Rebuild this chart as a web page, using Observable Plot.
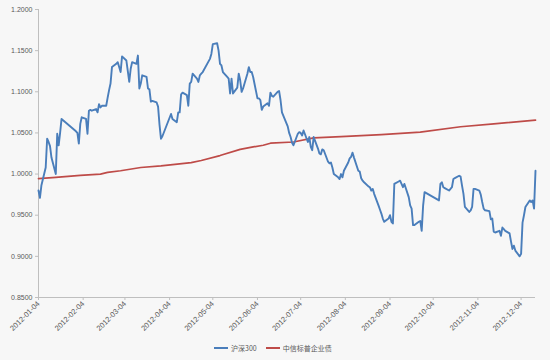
<!DOCTYPE html>
<html>
<head>
<meta charset="utf-8">
<script src="https://cdn.jsdelivr.net/npm/d3@7"></script>
<script src="https://cdn.jsdelivr.net/npm/@observablehq/plot@0.6"></script>
<style>
  html, body { margin: 0; padding: 0; background: #f7f7f7; }
  body { width: 550px; height: 360px; position: relative; overflow: hidden; font-family: "Liberation Sans", Arial, sans-serif; }
  #legend { position: absolute; top: 341px; left: 214px; height: 14px; display: flex; align-items: center; font-family: "Noto Sans CJK SC", "Liberation Sans", sans-serif; font-size: 7px; color: #595959; }
  .sw { display: inline-block; width: 14px; height: 2px; margin-right: 3px; }
  .item { display: flex; align-items: center; margin-right: 9px; }
</style>
</head>
<body>
<div id="chart"></div>
<div id="legend"></div>
<script>
// 沪深300 (normalised to 2011-12-30 close)
const csiDates = [
"2012-01-04","2012-01-05","2012-01-06","2012-01-09","2012-01-10","2012-01-11","2012-01-12","2012-01-13","2012-01-16","2012-01-17","2012-01-18","2012-01-19","2012-01-20",
"2012-01-30","2012-01-31","2012-02-01","2012-02-02","2012-02-03","2012-02-06","2012-02-07","2012-02-08","2012-02-09","2012-02-10","2012-02-13","2012-02-14","2012-02-15","2012-02-16","2012-02-17","2012-02-20","2012-02-21","2012-02-22","2012-02-23","2012-02-24","2012-02-27","2012-02-28","2012-02-29",
"2012-03-01","2012-03-02","2012-03-05","2012-03-06","2012-03-07","2012-03-08","2012-03-09","2012-03-12","2012-03-13","2012-03-14","2012-03-15","2012-03-16","2012-03-19","2012-03-20","2012-03-21","2012-03-22","2012-03-23","2012-03-26","2012-03-27","2012-03-28","2012-03-29","2012-03-30",
"2012-04-05","2012-04-06","2012-04-09","2012-04-10","2012-04-11","2012-04-12","2012-04-13","2012-04-16","2012-04-17","2012-04-18","2012-04-19","2012-04-20","2012-04-23","2012-04-24","2012-04-25","2012-04-26","2012-04-27",
"2012-05-02","2012-05-03","2012-05-04","2012-05-07","2012-05-08","2012-05-09","2012-05-10","2012-05-11","2012-05-14","2012-05-15","2012-05-16","2012-05-17","2012-05-18","2012-05-21","2012-05-22","2012-05-23","2012-05-24","2012-05-25","2012-05-28","2012-05-29","2012-05-30","2012-05-31",
"2012-06-01","2012-06-04","2012-06-05","2012-06-06","2012-06-07","2012-06-08","2012-06-11","2012-06-12","2012-06-13","2012-06-14","2012-06-15","2012-06-18","2012-06-19","2012-06-20","2012-06-21","2012-06-25","2012-06-26","2012-06-27","2012-06-28","2012-06-29",
"2012-07-02","2012-07-03","2012-07-04","2012-07-05","2012-07-06","2012-07-09","2012-07-10","2012-07-11","2012-07-12","2012-07-13","2012-07-16","2012-07-17","2012-07-18","2012-07-19","2012-07-20","2012-07-23","2012-07-24","2012-07-25","2012-07-26","2012-07-27","2012-07-30","2012-07-31",
"2012-08-01","2012-08-02","2012-08-03","2012-08-06","2012-08-07","2012-08-08","2012-08-09","2012-08-10","2012-08-13","2012-08-14","2012-08-15","2012-08-16","2012-08-17","2012-08-20","2012-08-21","2012-08-22","2012-08-23","2012-08-24","2012-08-27","2012-08-28","2012-08-29","2012-08-30","2012-08-31",
"2012-09-03","2012-09-04","2012-09-05","2012-09-06","2012-09-07","2012-09-10","2012-09-11","2012-09-12","2012-09-13","2012-09-14","2012-09-17","2012-09-18","2012-09-19","2012-09-20","2012-09-21","2012-09-24","2012-09-25","2012-09-26","2012-09-27","2012-09-28",
"2012-10-08","2012-10-09","2012-10-10","2012-10-11","2012-10-12","2012-10-15","2012-10-16","2012-10-17","2012-10-18","2012-10-19","2012-10-22","2012-10-23","2012-10-24","2012-10-25","2012-10-26","2012-10-29","2012-10-30","2012-10-31",
"2012-11-01","2012-11-02","2012-11-05","2012-11-06","2012-11-07","2012-11-08","2012-11-09","2012-11-12","2012-11-13","2012-11-14","2012-11-15","2012-11-16","2012-11-19","2012-11-20","2012-11-21","2012-11-22","2012-11-23","2012-11-26","2012-11-27","2012-11-28","2012-11-29","2012-11-30",
"2012-12-03","2012-12-04","2012-12-05","2012-12-06","2012-12-07","2012-12-10","2012-12-11","2012-12-12","2012-12-13","2012-12-14"
];
const csiValues = [
0.980,0.971,0.986,1.008,1.043,1.039,1.034,1.020,1.000,1.049,1.035,1.050,1.067,
1.052,1.050,1.037,1.061,1.069,1.067,1.049,1.077,1.078,1.077,1.079,1.075,1.085,1.081,1.083,1.083,1.093,1.102,1.110,1.130,1.134,1.136,1.130,
1.124,1.143,1.138,1.125,1.112,1.128,1.136,1.134,1.144,1.104,1.110,1.120,1.118,1.104,1.103,1.088,1.089,1.087,1.082,1.060,1.043,1.046,
1.073,1.067,1.063,1.075,1.075,1.097,1.099,1.096,1.083,1.110,1.112,1.122,1.116,1.112,1.120,1.122,1.124,
1.140,1.146,1.158,1.159,1.150,1.134,1.132,1.124,1.118,1.116,1.098,1.116,1.098,1.105,1.122,1.114,1.100,1.104,1.122,1.130,1.124,1.124,
1.118,1.092,1.092,1.090,1.078,1.082,1.086,1.083,1.099,1.095,1.094,1.100,1.101,1.090,1.075,1.058,1.050,1.045,1.038,1.035,
1.049,1.051,1.050,1.047,1.053,1.039,1.045,1.033,1.029,1.045,1.031,1.025,1.024,1.030,1.029,1.015,1.013,1.014,1.008,1.000,0.996,0.994,
1.000,0.996,1.004,1.014,1.019,1.021,1.026,1.020,1.004,1.003,0.995,0.992,0.990,0.985,0.984,0.980,0.982,0.976,0.962,0.957,0.952,0.946,0.942,
0.946,0.950,0.942,0.940,0.988,0.991,0.992,0.988,0.984,0.988,0.972,0.962,0.958,0.938,0.938,0.942,0.943,0.931,0.962,0.978,
0.968,0.988,0.990,0.984,0.983,0.980,0.982,0.984,0.994,0.995,0.998,0.997,0.986,0.976,0.960,0.954,0.956,0.960,
0.982,0.982,0.980,0.975,0.966,0.958,0.956,0.955,0.945,0.946,0.930,0.929,0.931,0.925,0.935,0.933,0.931,0.928,0.918,0.909,0.913,0.907,
0.900,0.903,0.941,0.950,0.960,0.968,0.966,0.968,0.958,1.004
];

// 中信标普企业债
const bondDates = ["2012-01-04","2012-01-16","2012-02-02","2012-02-16","2012-02-21","2012-03-01","2012-03-15","2012-03-29","2012-04-19","2012-04-26","2012-05-09","2012-05-23","2012-06-01","2012-06-08","2012-06-13","2012-06-29","2012-07-13","2012-08-01","2012-08-29","2012-09-25","2012-10-23","2012-11-15","2012-12-14"];
const bondValues = [0.9945,0.9960,0.9985,1.0000,1.0020,1.0040,1.0080,1.0100,1.0140,1.0165,1.0225,1.0300,1.0330,1.0350,1.0375,1.0390,1.0440,1.0455,1.0480,1.0510,1.0575,1.0610,1.0655];

const xTickLabels = ["2012-01-04","2012-02-04","2012-03-04","2012-04-04","2012-05-04","2012-06-04","2012-07-04","2012-08-04","2012-09-04","2012-10-04","2012-11-04","2012-12-04"];
const yTickValues = [0.85, 0.90, 0.95, 1.00, 1.05, 1.10, 1.15, 1.20];
const seriesNames = ["沪深300", "中信标普企业债"];
const seriesColors = ["#4a7ebb", "#be4b48"];

const parse = d3.utcParse("%Y-%m-%d");
const csi = csiDates.map((d, i) => ({date: parse(d), value: csiValues[i]}));
const bond = bondDates.map((d, i) => ({date: parse(d), value: bondValues[i]}));
const xTicks = xTickLabels.map(parse);
const x0 = parse(csiDates[0]), x1 = parse(csiDates[csiDates.length - 1]);

const chart = Plot.plot({
  width: 550,
  height: 338,
  marginLeft: 38,
  marginRight: 15,
  marginTop: 9,
  marginBottom: 41,
  style: {background: "transparent", fontFamily: "'Liberation Sans', Arial, sans-serif", fontSize: "7px", color: "#595959"},
  x: {type: "utc", domain: [x0, x1]},
  y: {domain: [0.85, 1.2]},
  marks: [
    Plot.ruleY([0.85], {stroke: "#bfbfbf", strokeWidth: 1}),
    Plot.ruleX([x0], {stroke: "#bfbfbf", strokeWidth: 1}),
    Plot.axisY({ticks: yTickValues, tickFormat: d3.format(".4f"), tickSize: 3, tickPadding: 3, stroke: "#bfbfbf", fill: "#595959", label: null, fontSize: 7}),
    Plot.axisX({ticks: xTicks, tickFormat: d3.utcFormat("%Y-%m-%d"), tickRotate: -45, tickSize: 3, tickPadding: 2, stroke: "#bfbfbf", fill: "#595959", label: null, fontSize: 7.5}),
    Plot.line(bond, {x: "date", y: "value", stroke: seriesColors[1], strokeWidth: 1.7}),
    Plot.line(csi, {x: "date", y: "value", stroke: seriesColors[0], strokeWidth: 1.9})
  ]
});
document.getElementById("chart").appendChild(chart);

const legend = document.getElementById("legend");
seriesNames.forEach((name, i) => {
  const item = document.createElement("div");
  item.className = "item";
  const sw = document.createElement("span");
  sw.className = "sw";
  sw.style.background = seriesColors[i];
  const t = document.createElement("span");
  t.textContent = name;
  item.appendChild(sw);
  item.appendChild(t);
  legend.appendChild(item);
});
</script>
</body>
</html>
